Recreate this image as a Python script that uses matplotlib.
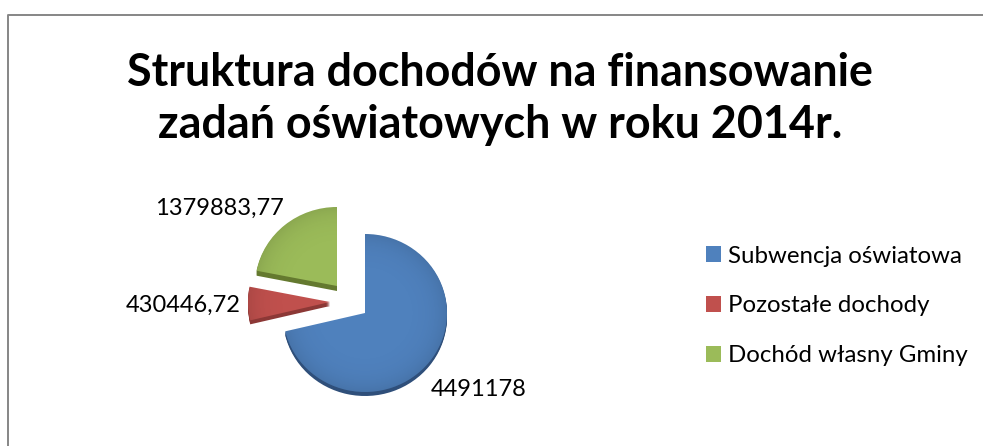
import numpy as np
from matplotlib import pyplot as plt
from matplotlib.patches import Patch, Wedge

labels = ['Subwencja oświatowa', 'Pozostałe dochody', 'Dochód własny Gminy']
values = [4491178, 430446.72, 1379883.77]
title = 'Struktura dochodów na finansowanie\nzadań oświatowych w roku 2014r.'

colors = ['#4F81BD', '#C0504D', '#9BBB59']
dark = ['#2F4F7A', '#8C3836', '#64792F']

W, H = 983, 446
cx, cy = 365, 313   # pie centre in pixels
rx, ry = 82, 79
# shift of each slice from the centre, pixels (x, y up)
shift = [(0, 0), (-35, 11), (-28, 27)]
depth = [4, 4, 5]
label_pos = [(479, 389), (183, 305), (219, 208)]

plt.rcParams['font.family'] = ['Lato', 'DejaVu Sans']

fig = plt.figure(figsize=(W / 100, H / 100), dpi=100)

# pie axes: one data unit is rx pixels across and ry pixels up
ax = fig.add_axes([0, 0, 1, 1])

# darker copy underneath for the 3d rim
rim, _ = ax.pie(values, startangle=90, counterclock=False, colors=dark, radius=1)
top, _ = ax.pie(values, startangle=90, counterclock=False, colors=colors, radius=1)
ax.set_aspect('auto')
ax.axis('off')

for i in range(3):
    sx, sy = shift[i]
    # the rim is swept down in a few steps so it has a solid side
    rim[i].set_center((sx / rx, (sy - depth[i]) / ry))
    for d in range(1, depth[i]):
        ax.add_patch(Wedge((sx / rx, (sy - d) / ry), 1, rim[i].theta1, rim[i].theta2,
                           facecolor=dark[i], edgecolor='none'))
    top[i].set_center((sx / rx, sy / ry))
    top[i].set_zorder(5)

# soft shading on the faces, darker towards the rim
gx, gy = np.meshgrid(np.linspace(-1, 1, 200), np.linspace(-1, 1, 200))
shade = np.zeros((200, 200, 4))
shade[..., 3] = np.clip(np.hypot(gx, gy), 0, 1) ** 6 * 0.10
for i in range(3):
    sx, sy = shift[i]
    im = ax.imshow(shade, extent=(sx / rx - 1, sx / rx + 1, sy / ry - 1, sy / ry + 1),
                   origin='lower', aspect='auto', zorder=6)
    im.set_clip_path(top[i])
ax.set_xlim(-cx / rx, (W - cx) / rx)
ax.set_ylim(-(H - cy) / ry, cy / ry)

# pixel overlay for frame and texts
ov = fig.add_axes([0, 0, 1, 1])
ov.set_xlim(0, W)
ov.set_ylim(H, 0)
ov.axis('off')
ov.plot([8, 8, W], [H, 14.5, 14.5], color='#868686', lw=1.4, clip_on=False)

ov.text(500, 99, title, fontsize=32.3, fontweight='bold', ha='center', va='center',
        linespacing=1.27, color='black')

for i in range(3):
    s = str(values[i]).replace('.', ',')
    ov.text(label_pos[i][0], label_pos[i][1], s, fontsize=17, ha='center', va='center', color='black')

handles = [Patch(facecolor=c) for c in colors]
ov.legend(handles, labels, loc='center left', bbox_to_anchor=(706 / W, 1 - 306 / H),
          bbox_transform=fig.transFigure, frameon=False, fontsize=17.3,
          handlelength=0.62, handleheight=0.62, handletextpad=0.3,
          labelspacing=1.2, borderpad=0, borderaxespad=0)

fig.savefig('out.png', dpi=100)
